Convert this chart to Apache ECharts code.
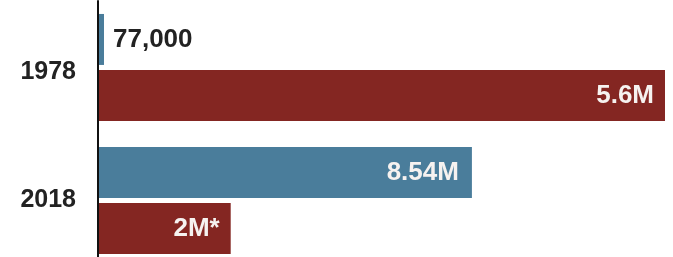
<!DOCTYPE html>
<html>
<head>
<meta charset="utf-8">
<script src="https://cdn.jsdelivr.net/npm/echarts@6/dist/echarts.min.js"></script>
<style>
  html, body { margin: 0; padding: 0; background: #fff; }
  #main { width: 673px; height: 257px; }
</style>
</head>
<body>
<div id="main"></div>
<script>
// data (millions)
const years = ['1978', '2018'];
const blueValues = [0.077, 8.54];
const blueLabels = ['77,000', '8.54M'];
const redValues = [5.6, 2];
const redLabels = ['5.6M', '2M*'];

const font = "'Liberation Sans', Arial, sans-serif";

const myChart = echarts.init(document.getElementById('main'));

// small bar gets its label outside, the others inside in white
const blueData = blueValues.map((v, i) => ({
  value: v,
  label: v < 1
    ? { position: 'right', distance: 9, color: '#222' }
    : { position: 'insideRight', distance: 13, color: '#f6f2f0' }
}));

myChart.setOption({
  animation: false,
  grid: { left: 98, right: 8, top: 1, height: 266, outerBoundsMode: 'none' },
  yAxis: {
    type: 'category',
    data: years,
    inverse: true,
    z: 5,
    axisLine: { lineStyle: { color: '#111', width: 2 } },
    axisTick: { show: false },
    axisLabel: {
      margin: 22,
      color: '#222',
      fontSize: 25,
      fontWeight: 'bold',
      fontFamily: font,
      formatter: (v, i) => i === 0 ? '{low|' + v + '}' : v,
      rich: { low: { fontSize: 25, fontWeight: 'bold', fontFamily: font, color: '#222', padding: [10, 0, 0, 0] } }
    }
  },
  xAxis: [
    // blue series scale
    { type: 'value', min: 0, max: 12.95, show: false },
    // red series scale (the original chart does not start at zero)
    { type: 'value', min: 0.9, max: 5.6, show: false, position: 'top' }
  ],
  series: [
    {
      type: 'bar',
      xAxisIndex: 0,
      data: blueData,
      barGap: '10%',
      barCategoryGap: '19.5%',
      barMinHeight: 6,
      itemStyle: { color: '#4a7d9b' },
      label: {
        show: true,
        fontSize: 26,
        fontWeight: 'bold',
        fontFamily: font,
        formatter: p => blueLabels[p.dataIndex]
      }
    },
    {
      type: 'bar',
      xAxisIndex: 1,
      clip: true,
      data: redValues,
      barGap: '10%',
      barCategoryGap: '19.5%',
      itemStyle: { color: '#842622' },
      label: {
        show: true,
        position: 'insideRight',
        distance: 11,
        color: '#f6f2f0',
        fontSize: 26,
        fontWeight: 'bold',
        fontFamily: font,
        formatter: p => redLabels[p.dataIndex]
      }
    }
  ]
});
</script>
</body>
</html>
